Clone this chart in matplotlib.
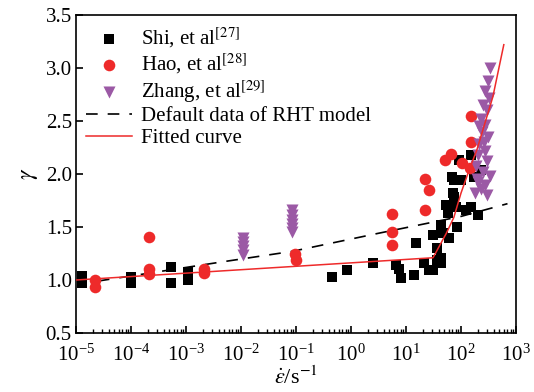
import numpy as np
import matplotlib
matplotlib.use("Agg")
import matplotlib.pyplot as plt
from matplotlib.ticker import LogLocator, FixedLocator, NullFormatter

plt.rcParams['font.family'] = ['Liberation Serif', 'DejaVu Serif']
plt.rcParams['mathtext.fontset'] = 'stix'

# Shi, et al [27]
shi_rate = [1.3e-5, 1.3e-5, 1.0e-4, 1.0e-4, 5.3e-4, 5.3e-4, 1.1e-3, 1.1e-3,
            0.45, 0.85, 2.5, 6.6, 7.4, 8.1, 14, 15, 21, 26, 31, 36, 44, 43,
            31, 43, 47, 60, 54, 63, 81, 71, 74, 100, 91, 124, 151, 151, 204,
            174, 230, 58, 85, 74, 70, 37]
shi_gamma = [1.04, 0.97, 1.03, 0.97, 1.12, 0.97, 1.08, 1.00,
             1.03, 1.09, 1.16, 1.14, 1.10, 1.02, 1.05, 1.35, 1.16, 1.09, 1.09, 1.19, 1.21, 1.16,
             1.42, 1.52, 1.44, 1.40, 1.71, 1.69, 1.69, 1.82, 1.94, 1.94, 2.13, 1.66, 1.69, 2.18, 1.61,
             1.97, 2.04, 1.63, 1.50, 1.78, 1.97, 1.30]

# Hao, et al [28]
hao_rate = [2.2e-5, 2.2e-5, 2.1e-4, 2.1e-4, 2.1e-4, 2.1e-3, 2.1e-3, 0.095, 0.1,
            5.6, 5.6, 5.6, 22, 26, 22, 51, 66, 105, 145, 150, 155]
hao_gamma = [1.00, 0.93, 1.41, 1.10, 1.06, 1.10, 1.07, 1.25, 1.19,
             1.62, 1.45, 1.33, 1.95, 1.85, 1.66, 2.13, 2.19, 2.10, 2.06, 2.30, 2.55]

# Zhang, et al [29]
zhang_rate = [0.011] * 5 + [0.085] * 6 + [
    340, 310, 275, 325, 250, 295, 230, 275, 240, 310, 215, 275, 205, 295,
    185, 250, 340, 195, 275, 230, 180, 295, 260, 215, 200]
zhang_gamma = [1.24, 1.28, 1.32, 1.36, 1.40,
               1.45, 1.49, 1.53, 1.57, 1.61, 1.66,
               3.00, 2.88, 2.78, 2.72, 2.65, 2.60, 2.52, 2.46, 2.40, 2.35, 2.28, 2.22, 2.18, 2.12,
               2.08, 2.02, 1.98, 1.95, 1.90, 1.86, 1.82, 1.80, 2.30, 2.45, 1.92]

# Default data of RHT model
rht_rate = [2.5e-5, 4.4e-3, 0.085, 3.1, 100, 700]
rht_gamma = [0.99, 1.17, 1.27, 1.44, 1.60, 1.72]

# Fitted curve
fit_rate = [1e-5, 31, 54, 74, 100, 141, 195, 380, 600]
fit_gamma = [1.0, 1.21, 1.44, 1.59, 1.82, 2.04, 2.23, 2.73, 3.22]

red = '#ee2a2a'
purple = '#9b59a5'

fig = plt.figure(figsize=(5.34, 3.92), dpi=100)
ax = fig.add_axes([0.1423, 0.1505, 0.8240, 0.8112])

ax.plot(rht_rate, rht_gamma, color='black', lw=1.2, dashes=(7, 6),
        label='Default data of RHT model', zorder=2)
ax.plot(fit_rate, fit_gamma, color=red, lw=1.1, label='Fitted curve', zorder=5)
ax.scatter(shi_rate, shi_gamma, marker='s', s=55, color='black', linewidths=0,
           label='Shi, et al$^{[27]}$', zorder=3)
ax.scatter(hao_rate, hao_gamma, marker='o', s=70, color=red, linewidths=0,
           label='Hao, et al$^{[28]}$', zorder=3)
ax.scatter(zhang_rate, zhang_gamma, marker='v', s=75, color=purple, linewidths=0,
           label='Zhang, et al$^{[29]}$', zorder=4)

ax.set_xscale('log')
ax.set_xlim(1e-5, 1e3)
ax.set_ylim(0.5, 3.5)
ax.xaxis.set_major_locator(LogLocator(base=10, numticks=20))
ax.xaxis.set_minor_locator(LogLocator(base=10, subs=np.arange(2, 10), numticks=20))
ax.xaxis.set_minor_formatter(NullFormatter())
ax.yaxis.set_major_locator(FixedLocator([0.5, 1.0, 1.5, 2.0, 2.5, 3.0, 3.5]))
ax.set_yticklabels(['0.5', '1.0', '1.5', '2.0', '2.5', '3.0', '3.5'])
ax.tick_params(axis='both', which='major', direction='in', length=5, width=1.2,
               labelsize=15, top=False, right=False)
ax.tick_params(axis='x', which='major', pad=8)
ax.tick_params(axis='y', which='major', pad=3)
ax.tick_params(axis='x', which='minor', direction='in', length=3, width=1.0, top=False)
for sp in ax.spines.values():
    sp.set_linewidth(1.2)

ax.set_ylabel(r'$\gamma$', fontsize=17, labelpad=4)
ax.set_xlabel(r'$\dot{\varepsilon}$/s$^{-1}$', fontsize=16, labelpad=1)

h, l = ax.get_legend_handles_labels()
order = [2, 3, 4, 0, 1]
ax.legend([h[i] for i in order], [l[i] for i in order], loc='upper left',
          bbox_to_anchor=(0.0, 1.0), frameon=False, fontsize=15,
          handlelength=2.2, handletextpad=0.4, labelspacing=0.1,
          borderaxespad=0.25, borderpad=0.25)

fig.savefig('out.png', dpi=100)
